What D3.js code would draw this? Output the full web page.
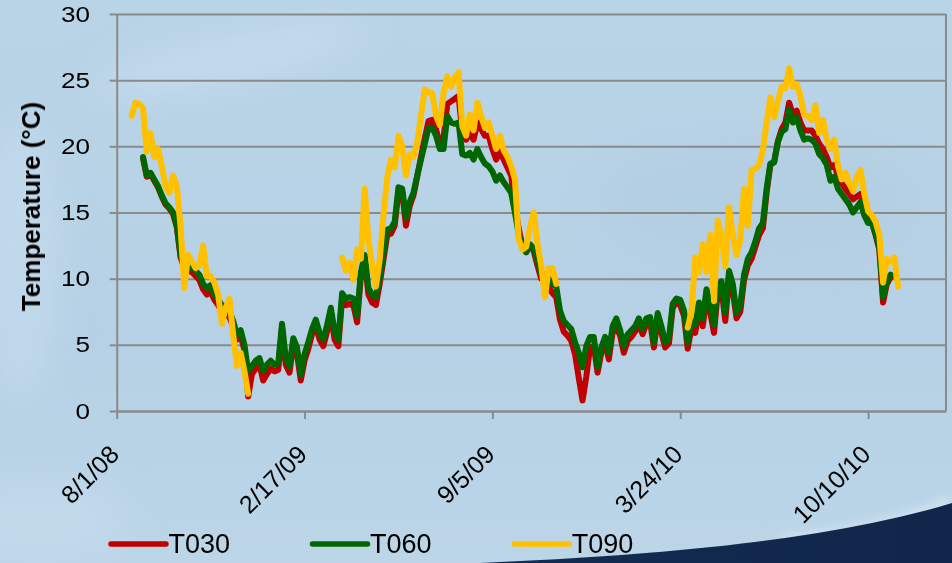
<!DOCTYPE html>
<html>
<head>
<meta charset="utf-8">
<script src="https://cdn.jsdelivr.net/npm/d3@7"></script>
<style>
  html, body { margin: 0; padding: 0; background: #b8d3e6; }
  svg { display: block; font-family: "Liberation Sans", Arial, Helvetica, sans-serif; }
</style>
</head>
<body>
<svg id="chart" width="952" height="563"></svg>
<script>
// Soil temperature at three depths, one reading every 4 days from 17 Aug 2008.
const sampleStart = Date.UTC(2008, 7, 17);
const sampleStepDays = 4;

const seriesNames = ["T030", "T060", "T090"];
const seriesColors = ["#c00000", "#006600", "#ffc000"];

const t030 = [
  null, null, null, 19.1, 17.7, 17.9, 17.4, 16.9, 16.2, 15.6,
  15.3, 14.9, 13.9, 11.6, 10.8, 10.6, 10.5, 10.2, 9.9, 9.2,
  8.8, 9.0, 8.4, 8.0, 7.5, 7.3, 7.1, 6.4, 5.4, 5.7,
  4.6, 1.1, 2.8, 3.2, 3.5, 2.3, 2.8, 3.2, 3.0, 3.1,
  6.3, 3.5, 2.9, 5.0, 4.3, 2.3, 3.8, 4.7, 5.8, 6.4,
  5.4, 4.9, 6.0, 7.3, 5.4, 4.9, 8.5, 8.0, 8.1, 8.0,
  6.7, 10.2, 11.5, 8.8, 8.2, 8.0, 9.6, 11.4, 13.3, 13.4,
  14.0, 16.6, 16.5, 14.0, 15.5, 16.3, 17.7, 19.2, 20.6, 21.9,
  22.0, 21.3, 20.2, 20.6, 23.2, 23.4, 23.6, 23.8, 21.0, 20.5,
  21.0, 20.5, 21.8, 21.3, 20.8, 20.8, 19.8, 19.0, 19.6, 19.0,
  18.4, 17.8, 15.5, 13.8, 12.5, 12.0, 12.5, 12.1, 11.0, 10.0,
  9.8, 9.4, 8.9, 8.6, 6.9, 6.0, 5.7, 5.3, 4.3, 2.5,
  0.8, 2.6, 4.8, 4.9, 2.9, 4.4, 5.1, 3.9, 5.9, 6.3,
  5.7, 4.4, 5.3, 5.6, 6.0, 6.6, 5.8, 6.6, 6.7, 4.8,
  7.0, 5.9, 4.8, 5.1, 7.8, 8.2, 8.0, 7.2, 4.7, 6.3,
  5.9, 7.7, 6.4, 8.6, 7.4, 5.9, 9.0, 9.2, 6.8, 10.1,
  9.0, 7.0, 7.5, 9.9, 11.0, 11.5, 12.4, 13.3, 13.8, 16.5,
  18.6, 18.8, 20.4, 21.3, 21.8, 23.3, 22.4, 22.7, 21.8, 21.2,
  21.2, 21.2, 20.8, 20.2, 19.8, 19.2, 18.4, 18.6, 17.8, 17.2,
  16.8, 16.4, 16.0, 16.2, 16.4, 15.2, 14.5, 14.3, 13.3, 12.2,
  8.2, 9.6, 10.1, null, null
];

const t060 = [
  null, null, null, 19.2, 17.8, 18.0, 17.5, 17.0, 16.3, 15.7,
  15.4, 15.0, 14.0, 11.8, 11.0, 10.9, 10.8, 10.6, 10.3, 9.6,
  9.3, 9.5, 8.8, 8.4, 8.0, 7.8, 7.6, 6.8, 5.8, 6.1,
  5.0, 3.0, 3.4, 3.8, 4.0, 3.0, 3.5, 3.8, 3.5, 3.6,
  6.6, 4.0, 3.4, 5.5, 4.8, 2.7, 4.3, 5.2, 6.2, 6.9,
  5.9, 5.4, 6.5, 7.8, 6.0, 5.4, 8.9, 8.5, 8.6, 8.5,
  7.2, 10.5, 11.8, 9.3, 8.8, 8.6, 10.0, 11.8, 13.7, 13.8,
  14.3, 16.9, 16.8, 14.6, 15.8, 16.5, 17.8, 19.0, 20.2, 21.4,
  21.4, 20.8, 19.8, 19.8, 22.3, 21.8, 21.7, 21.8, 19.4, 19.3,
  19.5, 19.0, 19.8, 19.2, 18.7, 18.5, 18.1, 17.4, 17.8, 17.3,
  16.9, 16.5, 15.0, 13.4, 12.4, 12.0, 12.6, 12.3, 11.4, 10.4,
  10.3, 10.0, 9.6, 9.4, 7.6, 6.8, 6.5, 6.2, 5.2, 4.4,
  3.3, 4.9, 5.6, 5.6, 3.3, 4.8, 5.6, 4.4, 6.4, 7.0,
  6.1, 4.9, 5.8, 6.1, 6.4, 7.0, 6.2, 7.0, 7.1, 5.2,
  7.4, 6.4, 5.2, 5.5, 8.1, 8.5, 8.4, 7.6, 5.2, 6.8,
  6.5, 8.2, 7.0, 9.2, 8.0, 6.5, 9.5, 9.8, 7.4, 10.6,
  9.6, 7.4, 8.0, 10.3, 11.5, 12.0, 12.8, 13.8, 14.2, 16.8,
  18.7, 18.8, 20.3, 21.1, 21.3, 22.8, 21.8, 22.2, 21.2, 20.5,
  20.6, 20.5, 20.2, 19.4, 19.1, 18.6, 17.4, 17.7, 16.8, 16.4,
  16.0, 15.6, 15.0, 15.4, 15.8, 14.8, 14.2, 14.2, 13.4, 12.4,
  8.6, 9.8, 10.3, null, null
];

const t090 = [
  22.3, 23.3, 23.2, 22.9, 19.6, 21.0, 19.2, 19.8, 18.5, 17.0,
  16.5, 17.8, 17.0, 13.9, 9.3, 11.8, 11.3, 10.8, 11.0, 12.5,
  10.2, 10.2, 9.7, 8.8, 6.6, 7.8, 8.5, 5.8, 3.4, 4.4,
  3.0, 1.3, null, null, null, null, null, null, null, null,
  null, null, null, null, null, null, null, null, null, null,
  null, null, null, null, null, null, 11.6, 10.6, 11.2, 9.9,
  12.2, 11.5, 16.8, 13.0, 11.0, 9.4, 11.4, 14.8, 17.6, 19.0,
  18.4, 20.8, 20.0, 17.8, 19.4, 19.2, 20.3, 22.3, 24.3, 24.1,
  24.0, 22.3, 21.6, 24.0, 25.3, 24.5, 25.2, 25.6, 21.5, 20.8,
  22.4, 21.2, 23.3, 22.3, 21.4, 21.8, 20.8, 19.8, 20.8, 19.7,
  19.2, 18.5, 17.5, 13.0, 12.2, 12.4, 13.9, 15.0, 12.6, 11.0,
  8.6, 10.8, 10.8, 9.6, null, null, null, null, null, null,
  null, null, null, null, null, null, null, null, null, null,
  null, null, null, null, null, null, null, null, null, null,
  null, null, null, null, null, null, null, null, 6.3, 7.5,
  11.6, 10.5, 12.6, 10.5, 13.3, 8.3, 14.4, 13.1, 10.9, 15.4,
  13.3, 11.8, 13.0, 16.8, 14.0, 18.2, 18.3, 18.6, 19.7, 21.8,
  23.7, 22.2, 23.4, 24.5, 24.4, 25.9, 24.5, 24.7, 23.8, 22.4,
  22.3, 22.0, 23.1, 21.0, 22.0, 20.5, 19.8, 20.5, 18.5, 17.5,
  18.0, 17.2, 16.6, 17.7, 18.2, 16.4, 15.1, 14.8, 14.3, 13.3,
  9.7, 11.5, 11.3, 11.6, 9.4
];

const yTicks = [0, 5, 10, 15, 20, 25, 30];
const xTickLabels = ["8/1/08", "2/17/09", "9/5/09", "3/24/10", "10/10/10"];
const yTitle = "Temperature (°C)";

const series = [t030, t060, t090];
const sampleDates = t030.map((_, i) => d3.utcDay.offset(new Date(sampleStart), i * sampleStepDays));
const parseTick = d3.utcParse("%m/%d/%y");
const xTickDates = xTickLabels.map(parseTick);

const W = 952, H = 563;
const plot = { left: 116.7, right: 946, top: 14, bottom: 411 };
const gridColor = "#8a8a8a";

const svg = d3.select("#chart");
const defs = svg.append("defs");

// ---- backdrop ----
const bg = defs.append("linearGradient").attr("id", "bgGrad")
  .attr("x1", 0).attr("y1", 0).attr("x2", 0).attr("y2", 1);
bg.append("stop").attr("offset", "0%").attr("stop-color", "#bad4e7");
bg.append("stop").attr("offset", "60%").attr("stop-color", "#b6d1e5");
bg.append("stop").attr("offset", "100%").attr("stop-color", "#bcd6e8");

const haze = defs.append("filter").attr("id", "haze")
  .attr("x", "-50%").attr("y", "-50%").attr("width", "200%").attr("height", "200%");
haze.append("feGaussianBlur").attr("stdDeviation", 18);

const glow = defs.append("filter").attr("id", "glow")
  .attr("x", "-20%").attr("y", "-200%").attr("width", "140%").attr("height", "500%");
glow.append("feGaussianBlur").attr("stdDeviation", 5);

const navy = defs.append("linearGradient").attr("id", "navyGrad")
  .attr("x1", 0).attr("y1", 0).attr("x2", 1).attr("y2", 0);
navy.append("stop").attr("offset", "0%").attr("stop-color", "#142c52");
navy.append("stop").attr("offset", "100%").attr("stop-color", "#10264a");

svg.append("rect").attr("width", W).attr("height", H).attr("fill", "url(#bgGrad)");

const soft = svg.append("g").attr("filter", "url(#haze)");
soft.append("ellipse").attr("cx", 230).attr("cy", 60).attr("rx", 140).attr("ry", 22)
  .attr("transform", "rotate(-12 230 60)").attr("fill", "#c9def0").attr("opacity", 0.7);
soft.append("ellipse").attr("cx", 20).attr("cy", 260).attr("rx", 40).attr("ry", 140)
  .attr("fill", "#c4dbec").attr("opacity", 0.7);
soft.append("ellipse").attr("cx", 40).attr("cy", 520).attr("rx", 90).attr("ry", 40)
  .attr("fill", "#c6dcec").attr("opacity", 0.6);
soft.append("ellipse").attr("cx", 760).attr("cy", 200).attr("rx", 160).attr("ry", 60)
  .attr("fill", "#afcbe0").attr("opacity", 0.5);

// dark swoosh in the lower right corner
const swooshEdge = "M480,563 C640,556 820,543 952,503";
svg.append("path").attr("d", "M780,541 C860,532 910,520 952,500")
  .attr("fill", "none").attr("stroke", "#e4eff7").attr("stroke-width", 10)
  .attr("opacity", 0.55).attr("filter", "url(#glow)");
svg.append("path").attr("d", swooshEdge + " L952,563 Z").attr("fill", "url(#navyGrad)");

// ---- scales ----
const x = d3.scaleUtc()
  .domain([new Date(Date.UTC(2008, 7, 1)), new Date(Date.UTC(2011, 0, 1))])
  .range([plot.left, plot.right]);
const y = d3.scaleLinear().domain([0, 30]).range([plot.bottom, plot.top]);

// ---- grid and frame ----
const grid = svg.append("g").attr("transform", `translate(${plot.left},0)`)
  .call(d3.axisLeft(y).tickValues(yTicks).tickSize(-(plot.right - plot.left)).tickFormat(""));
grid.select(".domain").remove();
grid.selectAll("line").attr("stroke", gridColor).attr("stroke-width", 2);

const yAxis = svg.append("g").attr("transform", `translate(${plot.left},0)`)
  .call(d3.axisLeft(y).tickValues(yTicks).tickSize(7).tickSizeOuter(0).tickFormat(""));
const xAxis = svg.append("g").attr("transform", `translate(0,${plot.bottom})`)
  .call(d3.axisBottom(x).tickValues(xTickDates).tickSize(8).tickSizeOuter(0).tickFormat(""));
[yAxis, xAxis].forEach(a => {
  a.select(".domain").attr("stroke", gridColor).attr("stroke-width", 2);
  a.selectAll("line").attr("stroke", gridColor).attr("stroke-width", 2);
});
svg.append("line")
  .attr("x1", plot.right).attr("x2", plot.right)
  .attr("y1", y(30)).attr("y2", y(0))
  .attr("stroke", gridColor).attr("stroke-width", 2);

// ---- tick labels ----
svg.append("g").selectAll("text").data(yTicks).join("text")
  .attr("transform", d => `translate(90,${y(d) + 7.6}) scale(1.22,1)`)
  .attr("text-anchor", "end")
  .attr("font-size", 21.4)
  .attr("fill", "#000")
  .text(d => d);

svg.append("g").selectAll("text").data(xTickLabels).join("text")
  .attr("transform", (d, i) => `translate(${x(xTickDates[i]) + 4},${456}) rotate(-45)`)
  .attr("text-anchor", "end")
  .attr("font-size", 25)
  .attr("fill", "#000")
  .text(d => d);

svg.append("text")
  .attr("transform", `translate(40,${(plot.top + plot.bottom) / 2 - 6}) rotate(-90)`)
  .attr("text-anchor", "middle")
  .attr("font-size", 26)
  .attr("font-weight", "bold")
  .attr("fill", "#000")
  .text(yTitle);

// ---- series ----
const line = d3.line()
  .defined(v => v != null)
  .x((v, i) => x(sampleDates[i]))
  .y(v => y(v));

svg.append("g").selectAll("path").data(series).join("path")
  .attr("d", d => line(d))
  .attr("fill", "none")
  .attr("stroke", (d, i) => seriesColors[i])
  .attr("stroke-width", 6)
  .attr("stroke-linejoin", "round")
  .attr("stroke-linecap", "round");

// ---- legend ----
const legendX = [111, 312.5, 514.3];
const legend = svg.append("g").selectAll("g").data(seriesNames).join("g")
  .attr("transform", (d, i) => `translate(${legendX[i]},544)`);
legend.append("line")
  .attr("x1", 0).attr("x2", 55).attr("y1", 0).attr("y2", 0)
  .attr("stroke", (d, i) => seriesColors[i])
  .attr("stroke-width", 5.5)
  .attr("stroke-linecap", "round");
legend.append("text")
  .attr("x", 57.5).attr("y", 9.3)
  .attr("font-size", 27)
  .attr("fill", "#000")
  .text(d => d);
</script>
</body>
</html>
